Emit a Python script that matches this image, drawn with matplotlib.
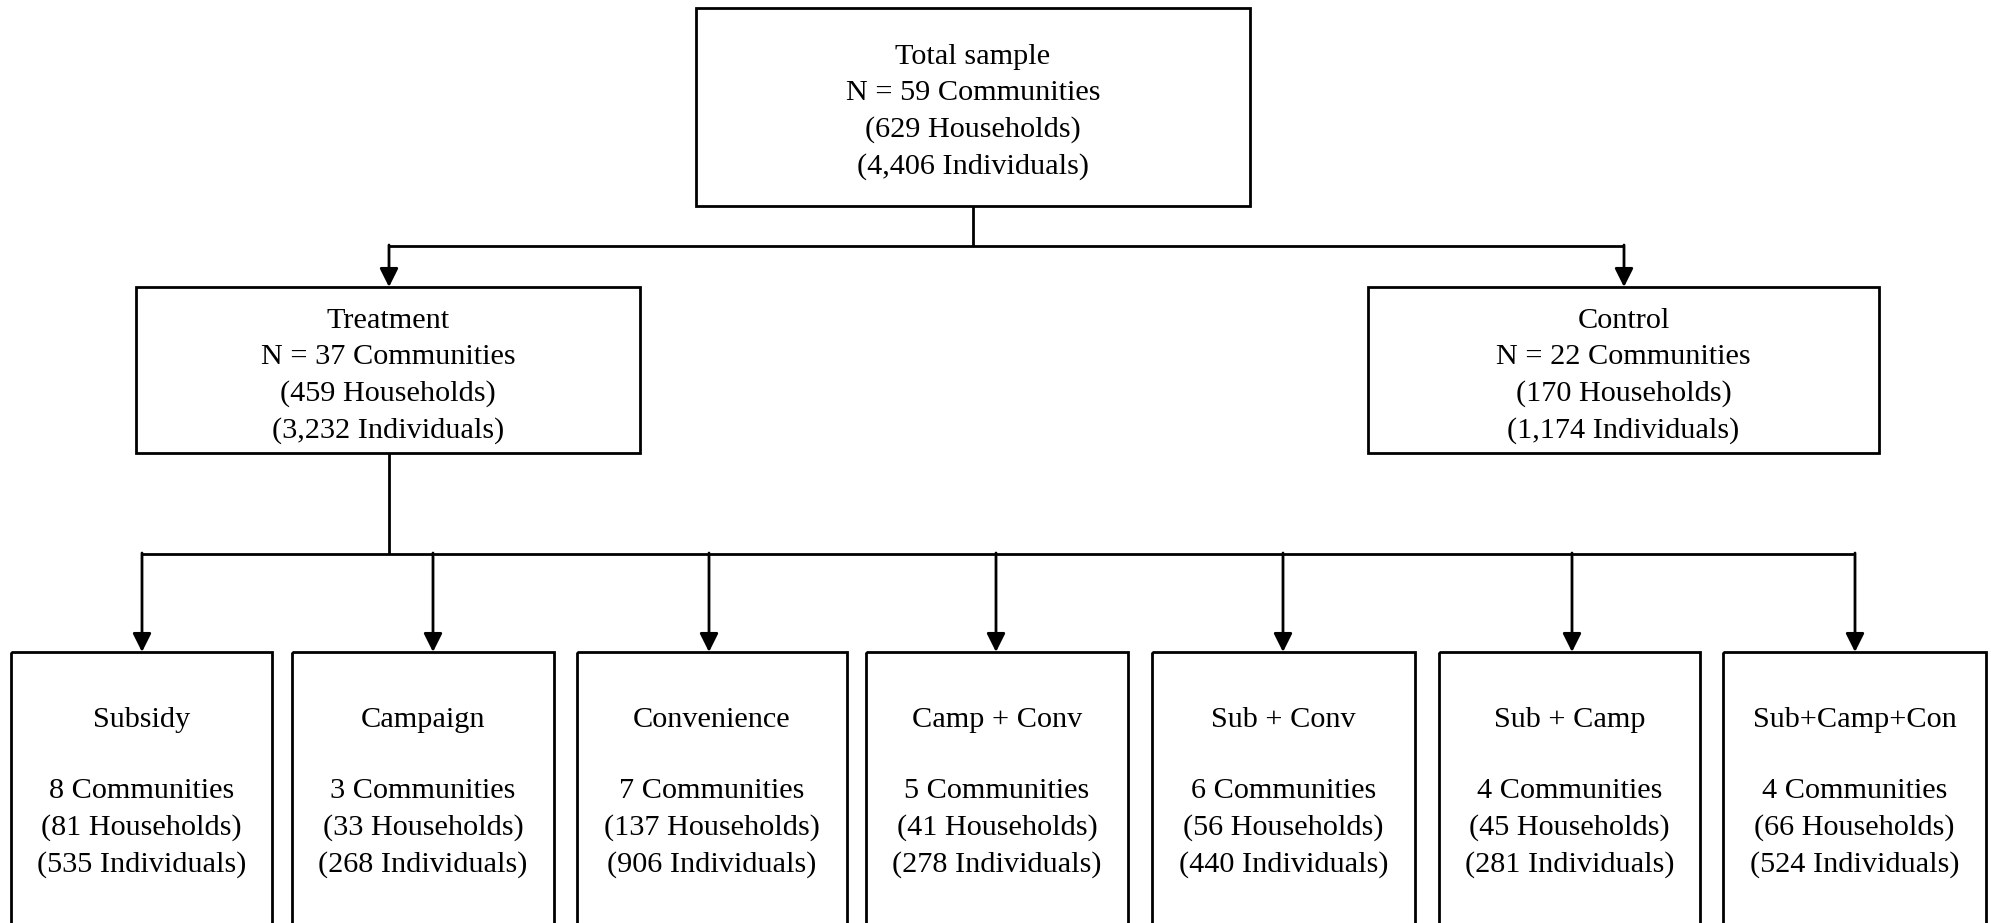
import matplotlib
matplotlib.use("Agg")
import matplotlib.pyplot as plt
from matplotlib.patches import Rectangle, FancyArrowPatch

plt.rcParams['font.family'] = ['Liberation Serif', 'DejaVu Serif']

# ---- data ----
top_label = "Total sample"
top_comm, top_hh, top_ind = 59, 629, "4,406"

mid_labels = ["Treatment", "Control"]
mid_comm = [37, 22]
mid_hh = [459, 170]
mid_ind = ["3,232", "1,174"]

arm_labels = ["Subsidy", "Campaign", "Convenience", "Camp + Conv",
              "Sub + Conv", "Sub + Camp", "Sub+Camp+Con"]
arm_comm = [8, 3, 7, 5, 6, 4, 4]
arm_hh = [81, 33, 137, 41, 56, 45, 66]
arm_ind = [535, 268, 906, 278, 440, 281, 524]

# ---- layout (pixel-like coordinates) ----
W, H = 1991, 923
fig = plt.figure(figsize=(W / 100, H / 100), dpi=100)
ax = fig.add_axes([0, 0, 1, 1])
ax.set_xlim(0, W)
ax.set_ylim(H, 0)
ax.axis('off')

LW = 2.0
FS = 21.8
LS = 1.48
col = 'black'


def box(x0, x1, y0, y1):
    ax.add_patch(Rectangle((x0, y0), x1 - x0, y1 - y0, fill=False,
                           edgecolor=col, lw=LW, clip_on=True))


def line(xs, ys):
    ax.plot(xs, ys, color=col, lw=LW, solid_capstyle='butt')


def arrow(x, y0, y1):
    ax.add_patch(FancyArrowPatch((x, y0), (x, y1), arrowstyle='-|>',
                                 mutation_scale=28, color=col, lw=LW,
                                 shrinkA=0, shrinkB=0))


# top box
top_box = (696, 1250, 8, 206)
box(*top_box)
ax.text((top_box[0] + top_box[1]) / 2, 112,
        f"{top_label}\nN = {top_comm} Communities\n({top_hh} Households)\n({top_ind} Individuals)",
        ha='center', va='center', fontsize=FS, linespacing=LS)

# connectors top -> mid
top_cx = (top_box[0] + top_box[1]) / 2
y_h1 = 246
mid_boxes = [(136, 640, 287, 453), (1368, 1879, 287, 453)]
mid_arrow_x = [389, 1624]
line([top_cx, top_cx], [top_box[3], y_h1])
line([mid_arrow_x[0], mid_arrow_x[1]], [y_h1, y_h1])
for xa, b in zip(mid_arrow_x, mid_boxes):
    arrow(xa, y_h1 - 1, b[2])

for lab, c, h, i, b in zip(mid_labels, mid_comm, mid_hh, mid_ind, mid_boxes):
    box(*b)
    ax.text((b[0] + b[1]) / 2, 376,
            f"{lab}\nN = {c} Communities\n({h} Households)\n({i} Individuals)",
            ha='center', va='center', fontsize=FS, linespacing=LS)

# connectors treatment -> arms
arm_boxes = [(11, 272), (292, 554), (577, 847), (866, 1128),
             (1152, 1415), (1439, 1700), (1723, 1986)]
arm_arrow_x = [142, 433, 709, 996, 1283, 1572, 1855]
y_h2 = 554
arm_top = 652
line([mid_arrow_x[0], mid_arrow_x[0]], [mid_boxes[0][3], y_h2])
line([arm_arrow_x[0], arm_arrow_x[-1]], [y_h2, y_h2])
for xa in arm_arrow_x:
    arrow(xa, y_h2 - 1, arm_top)

for lab, c, h, i, (x0, x1) in zip(arm_labels, arm_comm, arm_hh, arm_ind, arm_boxes):
    box(x0, x1, arm_top, 960)
    cx = (x0 + x1) / 2
    ax.text(cx, 720, lab, ha='center', va='center', fontsize=FS)
    ax.text(cx, 828, f"{c} Communities\n({h} Households)\n({i} Individuals)",
            ha='center', va='center', fontsize=FS, linespacing=LS)

fig.savefig("out.png", dpi=100, facecolor='white')
